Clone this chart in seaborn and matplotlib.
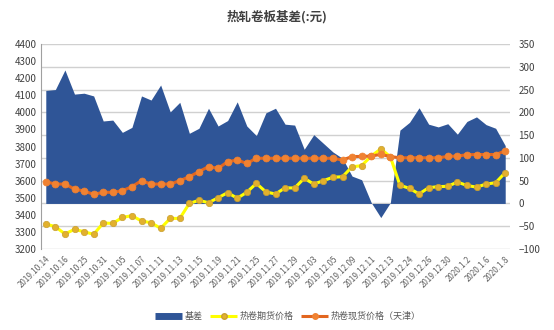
import numpy as np
import pandas as pd
import matplotlib
matplotlib.use("Agg")
import matplotlib.pyplot as plt
from matplotlib.lines import Line2D
import seaborn as sns

# ---------------- data ----------------
date_labels = ["2019.10.14", "2019.10.16", "2019.10.25", "2019.10.31", "2019.11.05",
               "2019.11.07", "2019.11.11", "2019.11.13", "2019.11.15", "2019.11.19",
               "2019.11.21", "2019.11.25", "2019.11.27", "2019.11.29", "2019.12.03",
               "2019.12.05", "2019.12.09", "2019.12.11", "2019.12.13", "2019.12.24",
               "2019.12.26", "2019.12.30", "2020.1.2", "2020.1.6", "2020.1.8"]

basis = [248, 250, 293, 240, 242, 236, 181, 183, 156, 167,
         236, 227, 260, 201, 222, 154, 165, 209, 170, 182,
         223, 170, 149, 199, 209, 174, 172, 119, 151, 132,
         113, 99, 60, 52, 2, -31, 2, 161, 178, 210,
         174, 168, 175, 152, 180, 190, 173, 165, 127]

futures = [3346, 3331, 3288, 3315, 3301, 3286, 3352, 3350, 3385, 3395,
           3364, 3354, 3321, 3379, 3379, 3467, 3485, 3471, 3500, 3530,
           3497, 3532, 3584, 3534, 3522, 3558, 3557, 3614, 3580, 3600,
           3620, 3623, 3681, 3688, 3744, 3786, 3740, 3573, 3555, 3522,
           3559, 3565, 3567, 3592, 3572, 3562, 3580, 3588, 3647]

spot = [3594, 3580, 3580, 3551, 3539, 3520, 3532, 3532, 3541, 3565,
        3600, 3580, 3580, 3580, 3600, 3623, 3653, 3682, 3672, 3711,
        3721, 3701, 3731, 3731, 3731, 3731, 3731, 3731, 3731, 3731,
        3731, 3721, 3741, 3742, 3744, 3754, 3741, 3734, 3734, 3734,
        3734, 3734, 3742, 3744, 3752, 3753, 3753, 3753, 3774]

series_names = ["基差", "热卷期货价格", "热卷现货价格（天津）"]
title_text = "热轧卷板基差(:元)"

# ---------------- style ----------------
sns.set_theme(style="white")
plt.rcParams["font.family"] = ["Noto Sans CJK SC", "DejaVu Sans"]

n = len(spot)
df = pd.DataFrame({"idx": np.arange(n), "basis": basis, "futures": futures, "spot": spot})

fig = plt.figure(figsize=(5.54, 3.30), dpi=100)
ax = fig.add_axes([41 / 554, 1 - 249 / 330, (510 - 41) / 554, (249 - 44) / 330])
ax2 = ax.twinx()

ax.set_zorder(ax2.get_zorder() + 1)
ax.patch.set_visible(False)

blue = "#2F5597"
ax2.fill_between(df["idx"], 0, df["basis"], color=blue, linewidth=0, zorder=2)
ax2.set_ylim(-100, 350)
ax2.set_yticks(np.arange(-100, 351, 50))
ax2.yaxis.grid(True, color="#D0D0D0", linewidth=1.0)
ax2.set_axisbelow(True)

sns.lineplot(data=df, x="idx", y="futures", ax=ax, color="#FFFF00", linewidth=2.2,
             marker="o", markersize=4.6, markerfacecolor="#E2B02E",
             markeredgecolor="#C8A030", markeredgewidth=0.5, zorder=4)
sns.lineplot(data=df, x="idx", y="spot", ax=ax, color="#E2661F", linewidth=2.2,
             marker="o", markersize=5.0, markerfacecolor="#F08232",
             markeredgecolor="#F08232", markeredgewidth=0.5, zorder=5)

ax.set_ylim(3200, 4400)
ax.set_yticks(np.arange(3200, 4401, 100))
ax.set_xlim(-0.5, n - 0.5)
ax.set_xticks(np.arange(0, n, 2))
ax.set_xticklabels(date_labels, rotation=45, ha="right", rotation_mode="anchor",
                   fontsize=5.8, color="#606060")
ax.set_xlabel("")
ax.set_ylabel("")
ax2.set_ylabel("")
ax.grid(False)

ax.tick_params(axis="y", labelsize=7, colors="#404040", length=0, pad=3)
ax.tick_params(axis="x", length=0, pad=4)
ax2.tick_params(axis="y", labelsize=7, colors="#404040", length=0, pad=6)

for a in (ax, ax2):
    for s in ("top", "right", "bottom"):
        a.spines[s].set_visible(False)
ax2.spines["left"].set_visible(False)
ax.spines["left"].set_color("#A0A0A0")
ax.spines["left"].set_linewidth(0.8)

fig.text(0.5, 1 - 17 / 330, title_text, ha="center", va="center",
         fontsize=9, fontweight="bold", color="#404040")

handles = [
    Line2D([0], [0], color=blue, linewidth=5, solid_capstyle="butt"),
    Line2D([0], [0], color="#FFFF00", linewidth=2.2, marker="o", markersize=4,
           markerfacecolor="#E2B02E", markeredgecolor="#C8A030", solid_capstyle="butt"),
    Line2D([0], [0], color="#E2661F", linewidth=2.2, marker="o", markersize=4,
           markerfacecolor="#F08232", markeredgecolor="#F08232", solid_capstyle="butt"),
]
fig.legend(handles, series_names, loc="center", bbox_to_anchor=(0.52, 1 - 316 / 330),
           ncol=3, frameon=False, fontsize=6.5, handlelength=3.0, columnspacing=0.8,
           handletextpad=0.3, labelcolor="#595959")

fig.savefig("out.png", dpi=100, facecolor="white")
